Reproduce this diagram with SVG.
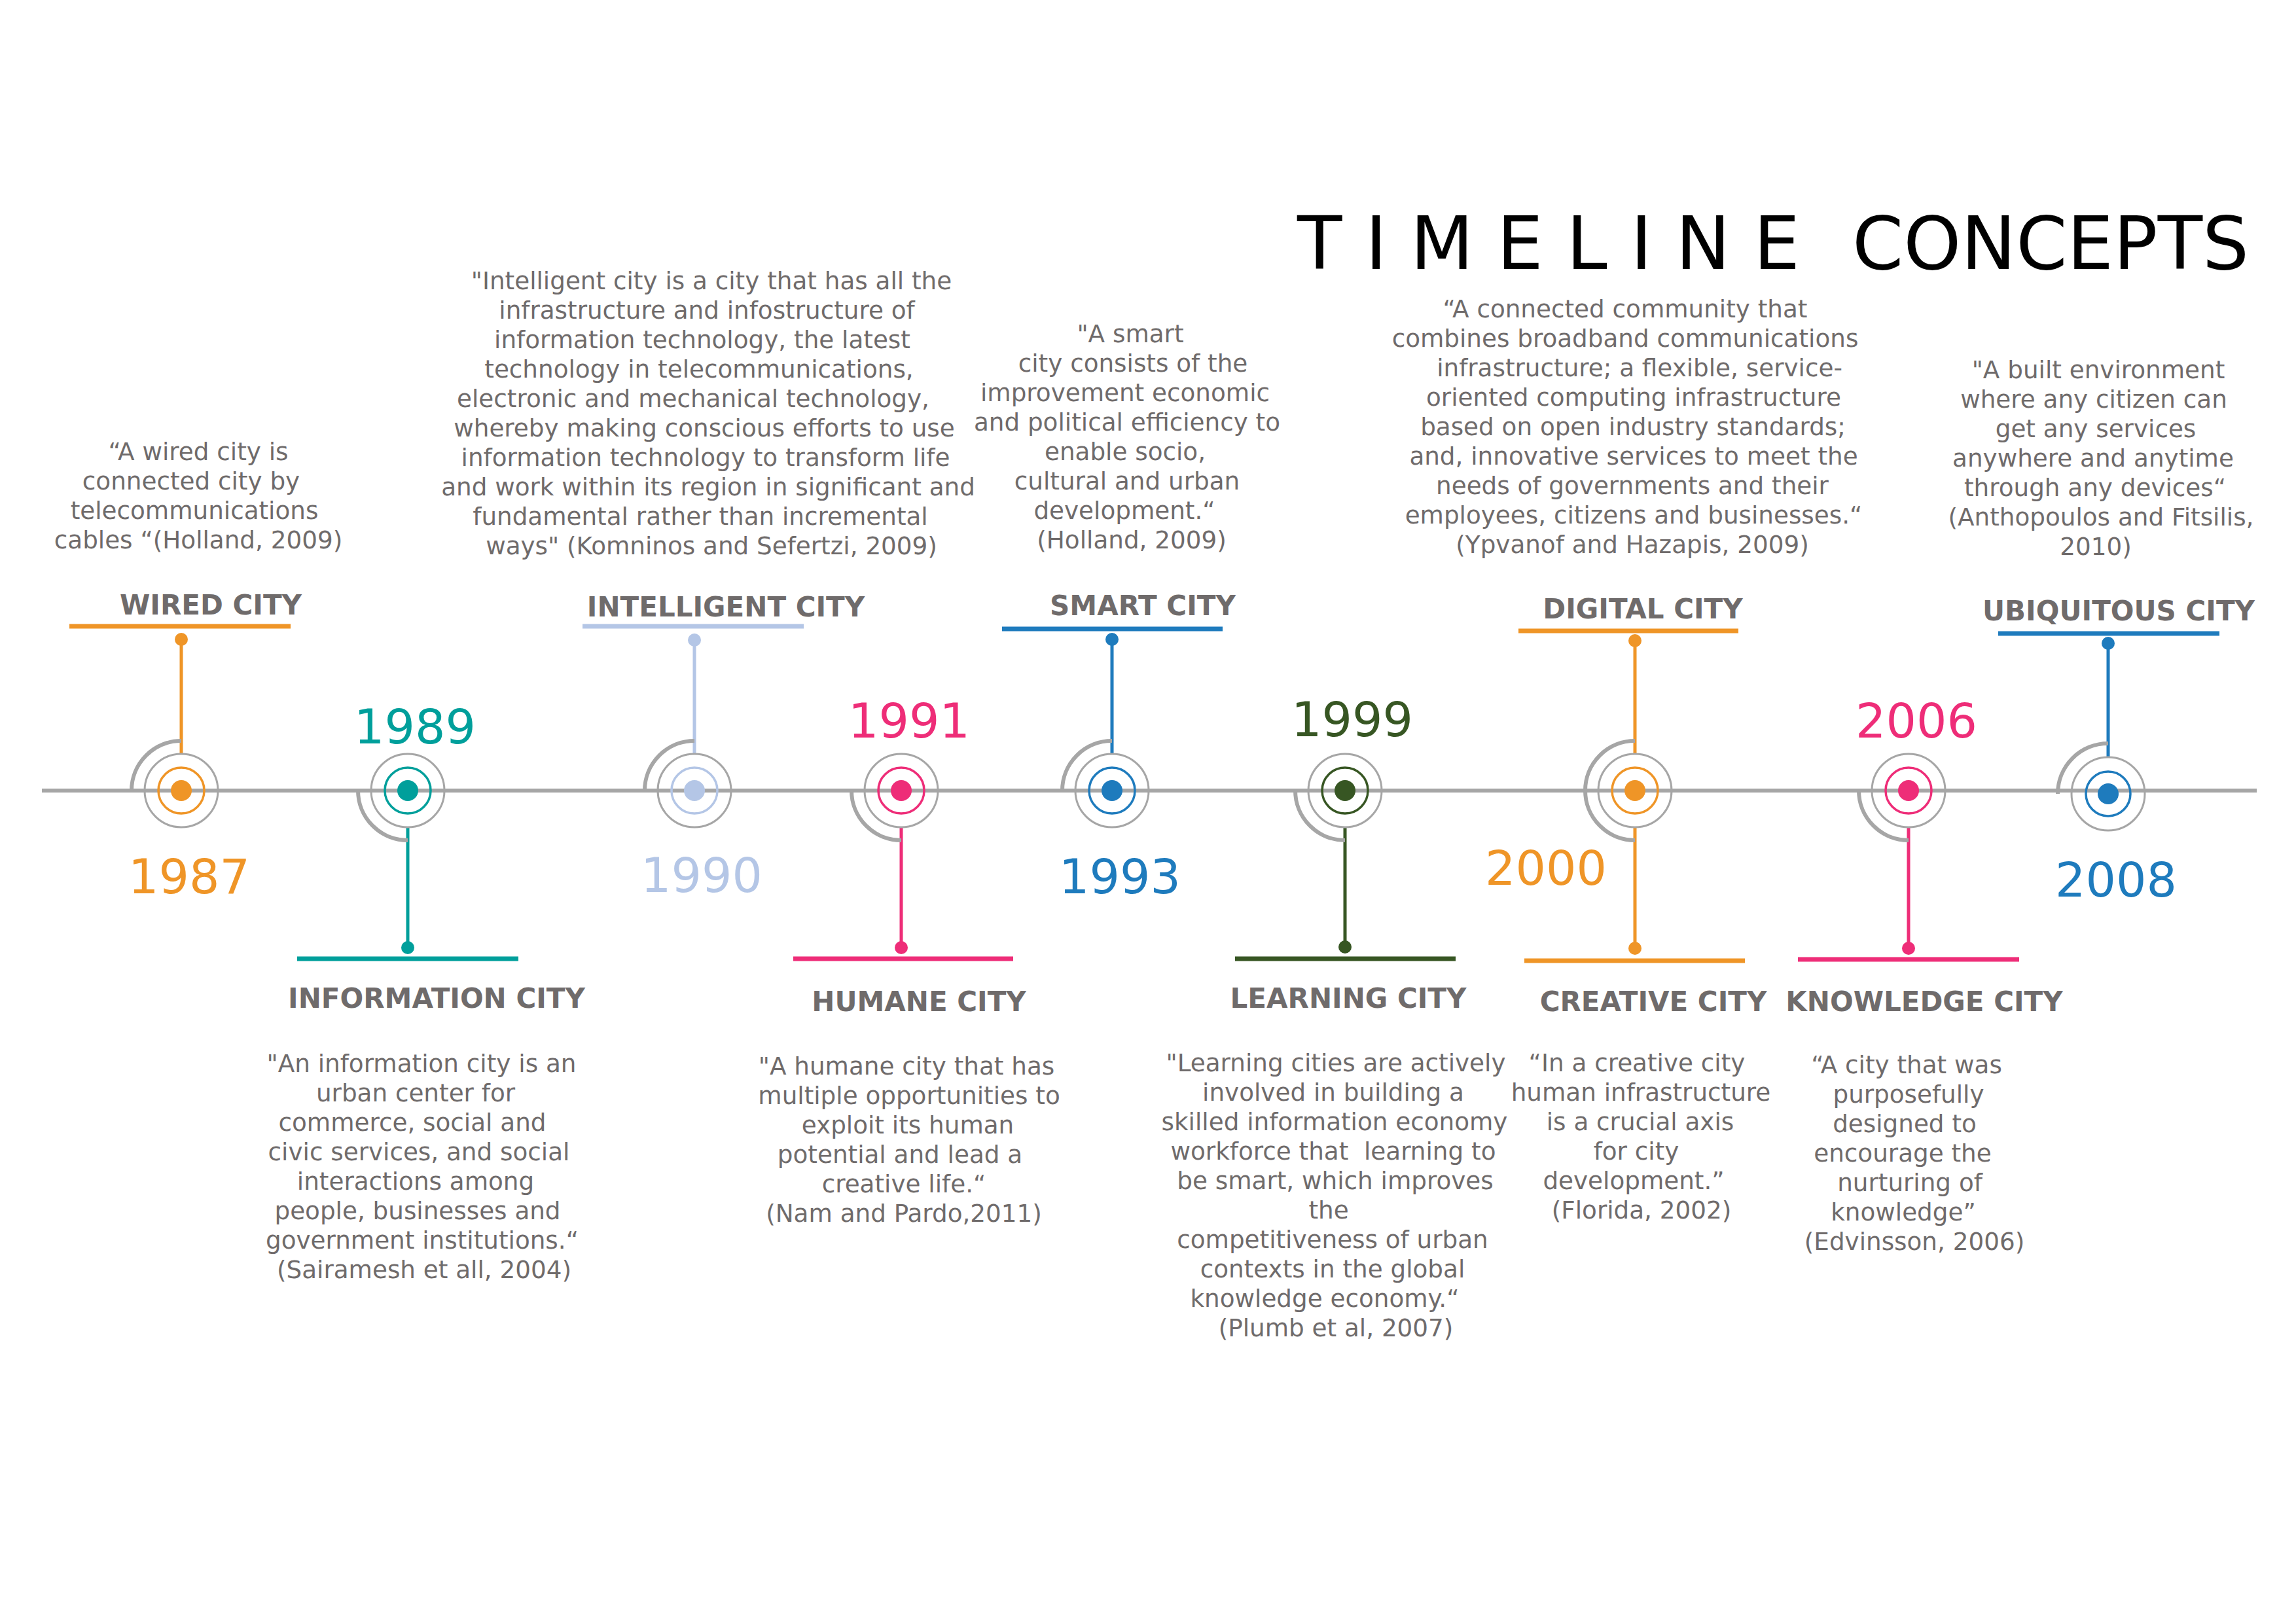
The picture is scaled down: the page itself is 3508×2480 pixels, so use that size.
<svg xmlns="http://www.w3.org/2000/svg" width="3508" height="2480" viewBox="0 0 3508 2480">
<style>
text{font-family:"DejaVu Sans","Liberation Sans",sans-serif}
.q{font-size:37.3px;fill:#6f6b6b;text-anchor:middle}
.lbl{font-size:42px;font-weight:bold;fill:#6f6b6b;text-anchor:middle}
.yr{font-size:73px;text-anchor:middle;fill:currentColor}
.ttl{font-size:112px;fill:#000}
.outer{fill:none;stroke:#a6a6a6;stroke-width:3}
.ring{fill:none;stroke:currentColor;stroke-width:3.5}
.dot{fill:currentColor}
.arc{fill:none;stroke:#a6a6a6;stroke-width:6}
.bar{stroke:currentColor;stroke-width:7}
.stem{stroke-width:5}
</style>
<rect width="3508" height="2480" fill="#fff"/>
<g id="title">
<text class="ttl" x="1982" y="411">T I M E L I N E</text>
<text class="ttl" x="2830" y="411">CONCEPTS</text>
</g>
<g id="timeline">
<line x1="64" y1="1208" x2="3448" y2="1208" stroke="#a6a6a6" stroke-width="6"/>
</g>
<g id="connectors">
<g stroke="#ef9527" fill="#ef9527" class="stem"><line x1="277" y1="1152" x2="277" y2="977"/><circle cx="277" cy="977" r="10" stroke="none"/></g>
<g stroke="#009f9b" fill="#009f9b" class="stem"><line x1="623" y1="1264" x2="623" y2="1448"/><circle cx="623" cy="1448" r="10" stroke="none"/></g>
<g stroke="#b4c6e6" fill="#b4c6e6" class="stem"><line x1="1061" y1="1152" x2="1061" y2="978"/><circle cx="1061" cy="978" r="10" stroke="none"/></g>
<g stroke="#ee2d78" fill="#ee2d78" class="stem"><line x1="1377" y1="1264" x2="1377" y2="1448"/><circle cx="1377" cy="1448" r="10" stroke="none"/></g>
<g stroke="#1e7bbd" fill="#1e7bbd" class="stem"><line x1="1699" y1="1152" x2="1699" y2="977"/><circle cx="1699" cy="977" r="10" stroke="none"/></g>
<g stroke="#375623" fill="#375623" class="stem"><line x1="2055" y1="1264" x2="2055" y2="1447"/><circle cx="2055" cy="1447" r="10" stroke="none"/></g>
<g stroke="#ef9527" fill="#ef9527" class="stem"><line x1="2498" y1="1152" x2="2498" y2="979"/><circle cx="2498" cy="979" r="10" stroke="none"/><line x1="2498" y1="1264" x2="2498" y2="1449"/><circle cx="2498" cy="1449" r="10" stroke="none"/></g>
<g stroke="#ee2d78" fill="#ee2d78" class="stem"><line x1="2916" y1="1264" x2="2916" y2="1449"/><circle cx="2916" cy="1449" r="10" stroke="none"/></g>
<g stroke="#1e7bbd" fill="#1e7bbd" class="stem"><line x1="3221" y1="1157" x2="3221" y2="983"/><circle cx="3221" cy="983" r="10" stroke="none"/></g>
</g>
<g id="wired" style="color:#ef9527">
<path class="arc" d="M201,1208 A76,76 0 0 1 277,1132"/>
<circle class="outer" cx="277" cy="1208" r="56"/><circle class="ring" cx="277" cy="1208" r="35"/><circle class="dot" cx="277" cy="1208" r="16"/>
<line class="bar" x1="106" y1="957" x2="444" y2="957"/>
<text class="lbl" x="322" y="939">WIRED CITY</text>
<text class="yr" x="289" y="1365">1987</text>
<text class="q"><tspan x="303" y="703">“A wired city is</tspan><tspan x="292" y="748">connected city by</tspan><tspan x="297" y="793">telecommunications</tspan><tspan x="303" y="838">cables “(Holland, 2009)</tspan></text>
</g>
<g id="information" style="color:#009f9b">
<path class="arc" d="M623,1284 A76,76 0 0 1 547,1208"/>
<circle class="outer" cx="623" cy="1208" r="56"/><circle class="ring" cx="623" cy="1208" r="35"/><circle class="dot" cx="623" cy="1208" r="16"/>
<line class="bar" x1="454" y1="1465" x2="792" y2="1465"/>
<text class="lbl" x="667" y="1540">INFORMATION CITY</text>
<text class="yr" x="634" y="1136">1989</text>
<text class="q"><tspan x="644" y="1638">"An information city is an</tspan><tspan x="635" y="1683">urban center for</tspan><tspan x="630" y="1728">commerce, social and</tspan><tspan x="640" y="1773">civic services, and social</tspan><tspan x="635" y="1818">interactions among</tspan><tspan x="638" y="1863">people, businesses and</tspan><tspan x="645" y="1908">government institutions.“</tspan><tspan x="648" y="1953">(Sairamesh et all, 2004)</tspan></text>
</g>
<g id="intelligent" style="color:#b4c6e6">
<path class="arc" d="M985,1208 A76,76 0 0 1 1061,1132"/>
<circle class="outer" cx="1061" cy="1208" r="56"/><circle class="ring" cx="1061" cy="1208" r="35"/><circle class="dot" cx="1061" cy="1208" r="16"/>
<line class="bar" x1="890" y1="957" x2="1228" y2="957"/>
<text class="lbl" x="1109" y="942">INTELLIGENT CITY</text>
<text class="yr" x="1072" y="1363">1990</text>
<text class="q"><tspan x="1087" y="442">"Intelligent city is a city that has all the</tspan><tspan x="1080" y="487">infrastructure and infostructure of</tspan><tspan x="1073" y="532">information technology, the latest</tspan><tspan x="1068" y="577">technology in telecommunications,</tspan><tspan x="1059" y="622">electronic and mechanical technology,</tspan><tspan x="1076" y="667">whereby making conscious efforts to use</tspan><tspan x="1078" y="712">information technology to transform life</tspan><tspan x="1082" y="757">and work within its region in significant and</tspan><tspan x="1070" y="802">fundamental rather than incremental</tspan><tspan x="1087" y="847">ways" (Komninos and Sefertzi, 2009)</tspan></text>
</g>
<g id="humane" style="color:#ee2d78">
<path class="arc" d="M1377,1284 A76,76 0 0 1 1301,1208"/>
<circle class="outer" cx="1377" cy="1208" r="56"/><circle class="ring" cx="1377" cy="1208" r="35"/><circle class="dot" cx="1377" cy="1208" r="16"/>
<line class="bar" x1="1212" y1="1465" x2="1548" y2="1465"/>
<text class="lbl" x="1404" y="1545">HUMANE CITY</text>
<text class="yr" x="1389" y="1127">1991</text>
<text class="q"><tspan x="1385" y="1642">"A humane city that has</tspan><tspan x="1389" y="1687">multiple opportunities to</tspan><tspan x="1387" y="1732">exploit its human</tspan><tspan x="1375" y="1777">potential and lead a</tspan><tspan x="1381" y="1822">creative life.“</tspan><tspan x="1381" y="1867">(Nam and Pardo,2011)</tspan></text>
</g>
<g id="smart" style="color:#1e7bbd">
<path class="arc" d="M1623,1208 A76,76 0 0 1 1699,1132"/>
<circle class="outer" cx="1699" cy="1208" r="56"/><circle class="ring" cx="1699" cy="1208" r="35"/><circle class="dot" cx="1699" cy="1208" r="16"/>
<line class="bar" x1="1531" y1="961" x2="1868" y2="961"/>
<text class="lbl" x="1746" y="940">SMART CITY</text>
<text class="yr" x="1711" y="1365">1993</text>
<text class="q"><tspan x="1727" y="523">"A smart</tspan><tspan x="1731" y="568">city consists of the</tspan><tspan x="1719" y="613">improvement economic</tspan><tspan x="1722" y="658">and political efficiency to</tspan><tspan x="1719" y="703">enable socio,</tspan><tspan x="1722" y="748">cultural and urban</tspan><tspan x="1718" y="793">development.“</tspan><tspan x="1729" y="838">(Holland, 2009)</tspan></text>
</g>
<g id="learning" style="color:#375623">
<path class="arc" d="M2055,1284 A76,76 0 0 1 1979,1208"/>
<circle class="outer" cx="2055" cy="1208" r="56"/><circle class="ring" cx="2055" cy="1208" r="35"/><circle class="dot" cx="2055" cy="1208" r="16"/>
<line class="bar" x1="1887" y1="1465" x2="2224" y2="1465"/>
<text class="lbl" x="2060" y="1540">LEARNING CITY</text>
<text class="yr" x="2066" y="1125">1999</text>
<text class="q"><tspan x="2041" y="1637">"Learning cities are actively</tspan><tspan x="2037" y="1682">involved in building a</tspan><tspan x="2039" y="1727">skilled information economy</tspan><tspan x="2037" y="1772">workforce that &#160;learning to</tspan><tspan x="2040" y="1817">be smart, which improves</tspan><tspan x="2030" y="1862">the</tspan><tspan x="2036" y="1907">competitiveness of urban</tspan><tspan x="2036" y="1952">contexts in the global</tspan><tspan x="2024" y="1997">knowledge economy.“</tspan><tspan x="2041" y="2042">(Plumb et al, 2007)</tspan></text>
</g>
<g id="digital-creative" style="color:#ef9527">
<path class="arc" d="M2498,1284 A76,76 0 0 1 2498,1132"/>
<circle class="outer" cx="2498" cy="1208" r="56"/><circle class="ring" cx="2498" cy="1208" r="35"/><circle class="dot" cx="2498" cy="1208" r="16"/>
<text class="yr" x="2362" y="1352">2000</text>
<g id="digital">
<line class="bar" x1="2320" y1="964" x2="2656" y2="964"/>
<text class="lbl" x="2510" y="945">DIGITAL CITY</text>
<text class="q"><tspan x="2483" y="485">“A connected community that</tspan><tspan x="2483" y="530">combines broadband communications</tspan><tspan x="2505" y="575">infrastructure; a flexible, service-</tspan><tspan x="2496" y="620">oriented computing infrastructure</tspan><tspan x="2495" y="665">based on open industry standards;</tspan><tspan x="2496" y="710">and, innovative services to meet the</tspan><tspan x="2494" y="755">needs of governments and their</tspan><tspan x="2496" y="800">employees, citizens and businesses.“</tspan><tspan x="2494" y="845">(Ypvanof and Hazapis, 2009)</tspan></text>
</g>
<g id="creative">
<line class="bar" x1="2329" y1="1468" x2="2666" y2="1468"/>
<text class="lbl" x="2526" y="1545">CREATIVE CITY</text>
<text class="q"><tspan x="2501" y="1637">“In a creative city</tspan><tspan x="2507" y="1682">human infrastructure</tspan><tspan x="2506" y="1727">is a crucial axis</tspan><tspan x="2500" y="1772">for city</tspan><tspan x="2496" y="1817">development.”</tspan><tspan x="2508" y="1862">(Florida, 2002)</tspan></text>
</g>
</g>
<g id="knowledge" style="color:#ee2d78">
<path class="arc" d="M2916,1284 A76,76 0 0 1 2840,1208"/>
<circle class="outer" cx="2916" cy="1208" r="56"/><circle class="ring" cx="2916" cy="1208" r="35"/><circle class="dot" cx="2916" cy="1208" r="16"/>
<line class="bar" x1="2747" y1="1466" x2="3085" y2="1466"/>
<text class="lbl" x="2940" y="1545">KNOWLEDGE CITY</text>
<text class="yr" x="2928" y="1127">2006</text>
<text class="q"><tspan x="2913" y="1640">“A city that was</tspan><tspan x="2916" y="1685">purposefully</tspan><tspan x="2910" y="1730">designed to</tspan><tspan x="2907" y="1775">encourage the</tspan><tspan x="2918" y="1820">nurturing of</tspan><tspan x="2908" y="1865">knowledge”</tspan><tspan x="2925" y="1910">(Edvinsson, 2006)</tspan></text>
</g>
<g id="ubiquitous" style="color:#1e7bbd">
<path class="arc" d="M3144,1213 A77,77 0 0 1 3221,1136"/>
<circle class="outer" cx="3221" cy="1213" r="56"/><circle class="ring" cx="3221" cy="1213" r="34"/><circle class="dot" cx="3221" cy="1213" r="16"/>
<line class="bar" x1="3053" y1="968" x2="3391" y2="968"/>
<text class="lbl" x="3237" y="948">UBIQUITOUS CITY</text>
<text class="yr" x="3233" y="1370">2008</text>
<text class="q"><tspan x="3206" y="578">"A built environment</tspan><tspan x="3199" y="623">where any citizen can</tspan><tspan x="3202" y="668">get any services</tspan><tspan x="3198" y="713">anywhere and anytime</tspan><tspan x="3201" y="758">through any devices“</tspan><tspan x="3210" y="803">(Anthopoulos and Fitsilis,</tspan><tspan x="3202" y="848">2010)</tspan></text>
</g>
</svg>
